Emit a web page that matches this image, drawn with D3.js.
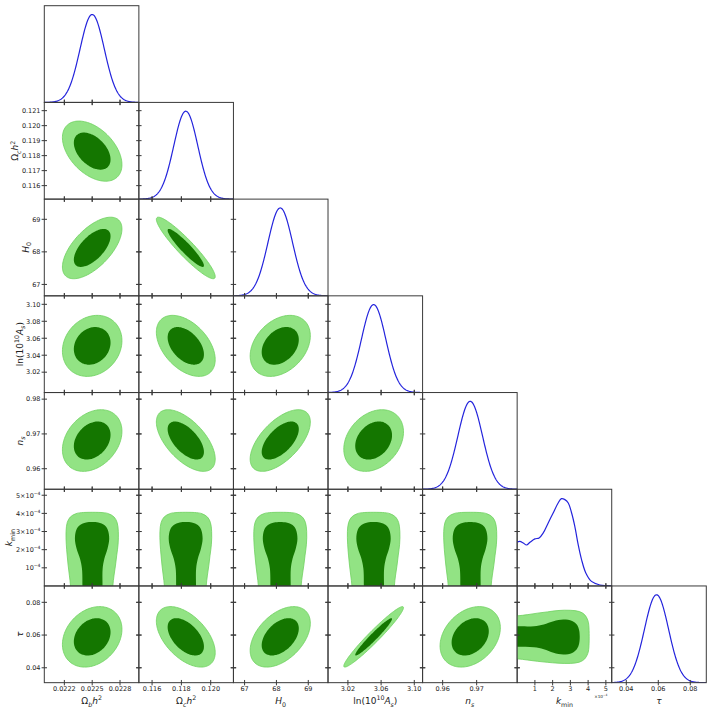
<!DOCTYPE html>
<html><head><meta charset="utf-8">
<script src="https://cdn.jsdelivr.net/npm/d3@7"></script>
<style>body{margin:0;background:#fff}svg{display:block}</style>
</head><body><div id="chart"></div>
<script>
// ---------------- data ----------------
const params = ["omegabh2", "omegach2", "H0", "logA", "ns", "kmin", "tau"];
const axisMin = [0.021984, 0.11510, 66.65, 2.9960, 0.9541, 0, 0.0309];
const axisMax = [0.023003, 0.12155, 69.62, 3.1100, 0.9819, 5.33e-4, 0.0900];
const means = [0.02250, 0.11830, 68.12, 3.0510, 0.9681, null, 0.0589];
const sigmas = [0.000131, 0.00082, 0.386, 0.0147, 0.00362, null, 0.00755];
// pairwise correlations [i, j, rho]
const corrPairs = [
  [0, 1, -0.45], [0, 2, 0.62], [0, 3, 0.17], [0, 4, 0.30], [0, 6, 0.25],
  [1, 2, -0.93], [1, 3, -0.45], [1, 4, -0.60], [1, 6, -0.52],
  [2, 3, 0.33], [2, 4, 0.60], [2, 6, 0.45],
  [3, 4, 0.28], [3, 6, 0.965],
  [4, 6, 0.30]
];
const contourMass = [0.95, 0.68];

// k_min marginal (k in units of 1e-4, density relative to peak)
const kminGridX = [0, 0.15, 0.34, 0.53, 0.72, 1.0, 1.24, 1.47, 1.75, 2.03, 2.31, 2.5, 2.69, 2.88, 3.07, 3.25, 3.44, 3.63, 3.87, 4.19, 4.66, 5.04, 5.33];
const kminDensity = [0.50, 0.507, 0.489, 0.466, 0.496, 0.535, 0.546, 0.603, 0.717, 0.83, 0.944, 0.993, 0.982, 0.944, 0.83, 0.678, 0.47, 0.30, 0.148, 0.052, 0.011, 0.003, 0.0];
// k_min 2D contour profiles (k in 1e-4; half widths in sigma units of partner parameter)
const kminOuterLevels = [-0.4, 0, 0.6, 1.15, 1.7, 2.3, 3.0, 3.5, 3.8, 3.98, 4.04];
const outerHalfLeft = [1.78, 1.78, 1.88, 1.98, 2.06, 2.13, 2.15, 2.05, 1.8, 1.35, 0.9];
const outerHalfRight = [1.70, 1.70, 1.80, 1.92, 2.02, 2.13, 2.15, 2.05, 1.8, 1.35, 0.9];
const kminInnerLevels = [-0.4, 0, 0.95, 1.5, 2.05, 2.6, 3.1, 3.36, 3.5];
const innerHalfLeft = [0.80, 0.80, 0.84, 1.0, 1.28, 1.42, 1.30, 1.0, 0.5];
const innerHalfRight = [0.85, 0.85, 0.86, 1.0, 1.26, 1.40, 1.28, 1.0, 0.5];

// ticks
const xTicks = [[0.0222, 0.0225, 0.0228], [0.116, 0.118, 0.120], [67, 68, 69], [3.02, 3.06, 3.10], [0.96, 0.97], [1e-4, 2e-4, 3e-4, 4e-4, 5e-4], [0.04, 0.06, 0.08]];
const xTickLabels = [["0.0222", "0.0225", "0.0228"], ["0.116", "0.118", "0.120"], ["67", "68", "69"], ["3.02", "3.06", "3.10"], ["0.96", "0.97"], ["1", "2", "3", "4", "5"], ["0.04", "0.06", "0.08"]];
const yTicks = [[], [0.116, 0.117, 0.118, 0.119, 0.120, 0.121], [67, 68, 69], [3.02, 3.04, 3.06, 3.08, 3.10], [0.96, 0.97, 0.98], [1e-4, 2e-4, 3e-4, 4e-4, 5e-4], [0.04, 0.06, 0.08]];
const yTickLabels = [[], ["0.116", "0.117", "0.118", "0.119", "0.120", "0.121"], ["67", "68", "69"], ["3.02", "3.04", "3.06", "3.08", "3.10"], ["0.96", "0.97", "0.98"], ["10^−4", "2×10^−4", "3×10^−4", "4×10^−4", "5×10^−4"], ["0.04", "0.06", "0.08"]];
const kminOffsetText = "×10^−4";

// axis labels (math parts)
const axisLabels = [
  [{t: "Ω"}, {t: "b", sub: 1, it: 1}, {t: "h", it: 1}, {t: "2", sup: 1}],
  [{t: "Ω"}, {t: "c", sub: 1, it: 1}, {t: "h", it: 1}, {t: "2", sup: 1}],
  [{t: "H", it: 1}, {t: "0", sub: 1}],
  [{t: "ln(10"}, {t: "10", sup: 1}, {t: "A", it: 1}, {t: "s", sub: 1, it: 1}, {t: ")"}],
  [{t: "n", it: 1}, {t: "s", sub: 1, it: 1}],
  [{t: "k", it: 1}, {t: "min", sub: 1}],
  [{t: "τ", it: 1}]
];

// ---------------- layout / style ----------------
const W = 712, H = 712;
const gridLeft = 44.3, gridTop = 5.7, cellW = 94.57, cellH = 96.71;
const N = params.length;
const KMIN = 5;
const col = {light: "#92e384", lightEdge: "#6fd05f", dark: "#147600", line: "#2424dc", frame: "#3a3a3a", text: "#222"};
const font = "DejaVu Sans, sans-serif";
const tickFont = 6.5, labelFont = 9, tickLen = 2.7;

const svg = d3.select("#chart").append("svg").attr("width", W).attr("height", H);
svg.append("rect").attr("width", W).attr("height", H).attr("fill", "#fff");
const defs = svg.append("defs");

function xScale(c) {
  const x0 = gridLeft + c * cellW;
  return d3.scaleLinear().domain([axisMin[c], axisMax[c]]).range([x0, x0 + cellW]);
}
function yScale(r) {
  const y0 = gridTop + r * cellH;
  return d3.scaleLinear().domain([axisMin[r], axisMax[r]]).range([y0 + cellH, y0]);
}
function rho(i, j) {
  const p = corrPairs.find(d => (d[0] === i && d[1] === j) || (d[0] === j && d[1] === i));
  return p ? p[2] : 0;
}
function mathText(sel, parts, size) {
  let shift = 0;
  parts.forEach(p => {
    const target = p.sub ? 0.28 * size : p.sup ? -0.42 * size : 0;
    const ts = sel.append("tspan").text(p.t).attr("dy", target - shift);
    shift = target;
    if (p.sub || p.sup) ts.attr("font-size", size * 0.7);
    if (p.it) ts.attr("font-style", "italic");
  });
}
function tickText(sel, s, size) {
  if (s.includes("^")) {
    const [a, b] = s.split("^");
    mathText(sel, [{t: a}, {t: b, sup: 1}], size);
  } else sel.text(s);
}

const lineGen = d3.line();
function ellipsePoints(i, j, k) {
  const r = rho(i, j), s = Math.sqrt(1 - r * r);
  return d3.range(0, 361, 3).map(a => {
    const t = a * Math.PI / 180, u = Math.cos(t), v = Math.sin(t);
    return [means[i] + k * sigmas[i] * u, means[j] + k * sigmas[j] * (r * u + s * v)];
  });
}
function profilePoints(levels, hl, hr, mu, sig, kminIsY) {
  const left = levels.map((k, n) => [mu - hl[n] * sig, k * 1e-4]);
  const right = levels.map((k, n) => [mu + hr[n] * sig, k * 1e-4]).reverse();
  const pts = left.concat(right);
  return kminIsY ? pts : pts.map(p => [p[1], p[0]]);
}

for (let r = 0; r < N; r++) {
  for (let c = 0; c <= r; c++) {
    const x = xScale(c);
    const x0 = gridLeft + c * cellW, y0 = gridTop + r * cellH;
    const g = svg.append("g");
    const clipId = `clip${r}_${c}`;
    defs.append("clipPath").attr("id", clipId).append("rect")
      .attr("x", x0).attr("y", y0).attr("width", cellW).attr("height", cellH);
    const plot = g.append("g").attr("clip-path", `url(#${clipId})`);

    if (r === c) {
      const y = d3.scaleLinear().domain([0, 1.1]).range([y0 + cellH, y0]);
      let pts;
      if (c === KMIN) {
        pts = kminGridX.map((k, n) => [k * 1e-4, kminDensity[n]]);
        plot.append("path").attr("d", d3.line().x(d => x(d[0])).y(d => y(d[1])).curve(d3.curveCatmullRom)(pts))
          .attr("fill", "none").attr("stroke", col.line).attr("stroke-width", 1.2);
      } else {
        pts = d3.range(0, 201).map(n => {
          const v = axisMin[c] + (axisMax[c] - axisMin[c]) * n / 200;
          return [v, Math.exp(-0.5 * Math.pow((v - means[c]) / sigmas[c], 2))];
        });
        plot.append("path").attr("d", d3.line().x(d => x(d[0])).y(d => y(d[1]))(pts))
          .attr("fill", "none").attr("stroke", col.line).attr("stroke-width", 1.2);
      }
    } else {
      const y = yScale(r);
      const pathFor = pts => d3.line().x(d => x(d[0])).y(d => y(d[1])).curve(d3.curveCatmullRomClosed)(pts);
      let outer, inner;
      if (r === KMIN) {
        outer = profilePoints(kminOuterLevels, outerHalfLeft, outerHalfRight, means[c], sigmas[c], true);
        inner = profilePoints(kminInnerLevels, innerHalfLeft, innerHalfRight, means[c], sigmas[c], true);
      } else if (c === KMIN) {
        outer = profilePoints(kminOuterLevels, outerHalfLeft, outerHalfRight, means[r], sigmas[r], false);
        inner = profilePoints(kminInnerLevels, innerHalfLeft, innerHalfRight, means[r], sigmas[r], false);
      } else {
        const ks = contourMass.map(p => Math.sqrt(-2 * Math.log(1 - p)));
        outer = ellipsePoints(c, r, ks[0]).slice(0, -1);
        inner = ellipsePoints(c, r, ks[1]).slice(0, -1);
      }
      plot.append("path").attr("d", pathFor(outer)).attr("fill", col.light)
        .attr("stroke", col.lightEdge).attr("stroke-width", 0.8);
      plot.append("path").attr("d", pathFor(inner)).attr("fill", col.dark);
    }

    // frame
    g.append("rect").attr("x", x0).attr("y", y0).attr("width", cellW).attr("height", cellH)
      .attr("fill", "none").attr("stroke", col.frame).attr("stroke-width", 1);

    // ticks
    const tg = g.append("g").attr("stroke", col.frame).attr("stroke-width", 1);
    xTicks[c].forEach(t => {
      const px = x(t);
      tg.append("line").attr("x1", px).attr("x2", px).attr("y1", y0 + cellH - tickLen).attr("y2", y0 + cellH + tickLen);
      if (r !== c) tg.append("line").attr("x1", px).attr("x2", px).attr("y1", y0 - tickLen).attr("y2", y0 + tickLen);
    });
    if (r !== c) {
      const y = yScale(r);
      yTicks[r].forEach(t => {
        const py = y(t);
        tg.append("line").attr("x1", x0 - tickLen).attr("x2", x0 + tickLen).attr("y1", py).attr("y2", py);
        tg.append("line").attr("x1", x0 + cellW - tickLen).attr("x2", x0 + cellW + tickLen).attr("y1", py).attr("y2", py);
      });
    }

    // bottom tick labels
    if (r === N - 1) {
      xTicks[c].forEach((t, n) => {
        const tx = svg.append("text").attr("x", x(t)).attr("y", y0 + cellH + 8.6)
          .attr("text-anchor", "middle").attr("font-family", font).attr("font-size", tickFont).attr("fill", col.text);
        tickText(tx, xTickLabels[c][n], tickFont);
      });
      const lab = svg.append("text").attr("x", x0 + cellW / 2).attr("y", 704)
        .attr("text-anchor", "middle").attr("font-family", font).attr("font-size", labelFont).attr("fill", col.text);
      mathText(lab, axisLabels[c], labelFont);
      if (c === KMIN) {
        const ot = svg.append("text").attr("x", x0 + cellW - 11).attr("y", 698)
          .attr("text-anchor", "middle").attr("font-family", font).attr("font-size", 4.2).attr("fill", col.text);
        tickText(ot, kminOffsetText, 4.2);
      }
    }
    // left tick labels + label
    if (c === 0 && r > 0) {
      const y = yScale(r);
      let minX = Infinity;
      yTicks[r].forEach((t, n) => {
        const tx = svg.append("text").attr("x", x0 - 3.8).attr("y", y(t) + 2.3)
          .attr("text-anchor", "end").attr("font-family", font).attr("font-size", tickFont).attr("fill", col.text);
        tickText(tx, yTickLabels[r][n], tickFont);
        minX = Math.min(minX, tx.node().getBBox().x);
      });
      const cx = minX - 3.5, cy = y0 + cellH / 2;
      const lab = svg.append("text").attr("transform", `translate(${cx},${cy}) rotate(-90)`)
        .attr("text-anchor", "middle").attr("font-family", font).attr("font-size", labelFont).attr("fill", col.text);
      mathText(lab, axisLabels[r], labelFont);
    }
  }
}
</script></body></html>
